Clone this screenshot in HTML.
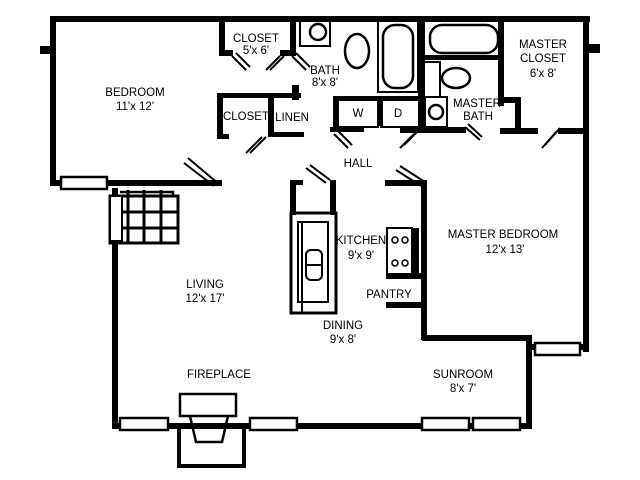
<!DOCTYPE html>
<html><head><meta charset="utf-8"><style>
html,body{margin:0;padding:0;background:#fff;}
svg{display:block;}
text{font-family:"Liberation Sans",sans-serif;font-size:11.5px;fill:#000;text-anchor:middle;}
</style></head><body>
<svg width="640" height="480" viewBox="0 0 640 480" xmlns="http://www.w3.org/2000/svg">
<g fill="#000">
<!-- top wall -->
<rect x="50" y="16" width="540" height="6"/>
<rect x="40" y="46" width="12" height="8"/>
<rect x="588" y="44" width="12" height="9"/>
<!-- bedroom -->
<rect x="50" y="16" width="6" height="170"/>
<rect x="50" y="180" width="172" height="6"/>
<!-- closet 5x6 -->
<rect x="219" y="16" width="6" height="40"/>
<rect x="219" y="50" width="14" height="6"/>
<rect x="290" y="16" width="6" height="38"/>
<rect x="280" y="50" width="16" height="6"/>
<!-- second closet / linen -->
<rect x="217" y="93" width="84" height="5"/>
<rect x="217" y="93" width="6" height="46"/>
<rect x="217" y="134" width="12" height="5"/>
<rect x="268" y="93" width="6" height="44"/>
<rect x="268" y="132" width="36" height="5"/>
<rect x="292" y="85" width="7" height="15"/>
<!-- living walls -->
<rect x="112" y="188" width="6" height="240"/>
<rect x="112" y="423" width="419" height="6"/>
<rect x="526" y="335" width="6" height="94"/>
<rect x="422" y="335" width="110" height="6"/>
<rect x="421" y="180" width="6" height="160"/>
<rect x="385" y="180" width="42" height="6"/>
<rect x="583" y="16" width="6" height="336"/>
<rect x="531" y="344" width="58" height="6"/>
<!-- kitchen walls -->
<rect x="290" y="180" width="6" height="35"/>
<rect x="290" y="180" width="13" height="5"/>
<rect x="330" y="180" width="6" height="35"/>
<rect x="386" y="273" width="38" height="6"/>
<rect x="386" y="302" width="38" height="6"/>
<rect x="411" y="228" width="8" height="48"/>
<!-- W/D and baths -->
<rect x="333" y="96" width="6" height="36"/>
<rect x="330" y="127" width="34" height="5"/>
<rect x="378" y="96" width="5" height="30"/>
<rect x="333" y="96" width="92" height="5"/>
<rect x="418" y="16" width="7" height="117"/>
<rect x="400" y="127" width="66" height="6"/>
<rect x="498" y="16" width="6" height="90"/>
<rect x="498" y="97" width="22" height="6"/>
<rect x="515" y="97" width="6" height="36"/>
<rect x="500" y="128" width="38" height="6"/>
<rect x="558" y="128" width="30" height="6"/>
<rect x="420" y="55" width="82" height="5"/>
</g>
<g fill="none" stroke="#000" stroke-width="2.5">
<!-- windows -->
<rect x="61" y="177" width="46" height="12" fill="#fff"/>
<rect x="120" y="418" width="48" height="12" fill="#fff"/>
<rect x="250" y="418" width="47" height="12" fill="#fff"/>
<rect x="422" y="418" width="47" height="12" fill="#fff"/>
<rect x="473" y="418" width="47" height="12" fill="#fff"/>
<rect x="535" y="343" width="45" height="12" fill="#fff"/>
<!-- fireplace -->
<rect x="180" y="394" width="56" height="22" fill="#fff"/>
<path d="M190 416 L196 442 L222 442 L228 416"/>
<path d="M179 426 V466 H244 V426" stroke-width="4"/>
<!-- built-in grid -->
<rect x="110" y="196" width="68" height="47" stroke-width="3"/>
<path d="M128 190V243M144 190V243M161 190V243M110 212H178M110 228H178" stroke-width="3"/>
<rect x="110" y="196" width="12" height="45" fill="#fff" stroke-width="2"/>
<path d="M120 192H173V196"/>
<!-- kitchen island -->
<rect x="291" y="213" width="45" height="100" stroke-width="3"/>
<rect x="298" y="222" width="30" height="80" stroke-width="2"/>
<rect x="302" y="222" width="26" height="80" stroke-width="2"/>
<path d="M302 302V312" stroke-width="2"/>
<rect x="306" y="250" width="16" height="30" rx="5" stroke-width="2"/>
<path d="M306 265H322" stroke-width="2"/>
<!-- stove -->
<rect x="387" y="228" width="25" height="48" stroke-width="2"/>
<circle cx="395" cy="240" r="3" stroke-width="1.5"/><circle cx="405" cy="240" r="3" stroke-width="1.5"/>
<circle cx="395" cy="263" r="3" stroke-width="1.5"/><circle cx="405" cy="263" r="3" stroke-width="1.5"/>
<!-- W D -->
<rect x="338" y="100" width="40" height="27" stroke-width="2"/>
<rect x="381" y="100" width="38" height="27" stroke-width="2"/>
<!-- hall bath -->
<rect x="300" y="18" width="30" height="28" stroke-width="2"/>
<circle cx="318" cy="32" r="8" stroke-width="2.5"/>
<ellipse cx="357" cy="51" rx="12" ry="17" stroke-width="2.5"/>
<rect x="378" y="20" width="40" height="72" stroke-width="2"/>
<rect x="383" y="25" width="30" height="63" rx="12" stroke-width="2.5"/>
<!-- master bath -->
<rect x="430" y="25" width="68" height="28" rx="12" stroke-width="2.5"/>
<rect x="424" y="62" width="16" height="35" stroke-width="2"/>
<ellipse cx="456" cy="78" rx="14" ry="10" stroke-width="2.5"/>
<rect x="425" y="97" width="22" height="30" stroke-width="2"/>
<circle cx="436" cy="112" r="7" stroke-width="2.5"/>
<!-- doors -->
<g stroke-width="2">
<path d="M232 56L246 70M236 53L250 67"/>
<path d="M280 56L266 70M284 56L270 70"/>
<path d="M292 56L306 70M296 53L310 67"/>
<path d="M262 137L246 153M266 137L250 153"/>
<path d="M188 158L220 185M184 163L214 186"/>
<path d="M338 131L352 145M334 134L348 148"/>
<path d="M418 131L404 145M414 134L400 148"/>
<path d="M465 127L480 140M468 124L482 137"/>
<path d="M560 128L545 145M557 131L542 148"/>
<path d="M310 165L330 180M306 168L326 183"/>
<path d="M400 166L425 182M396 170L421 186"/>
</g>
</g>
<text x="135" y="96">BEDROOM</text>
<text x="135" y="110">11'x 12'</text>
<text x="256" y="42">CLOSET</text>
<text x="256" y="54">5'x 6'</text>
<text x="325" y="74">BATH</text>
<text x="325" y="86">8'x 8'</text>
<text x="246" y="120">CLOSET</text>
<text x="292" y="121">LINEN</text>
<text x="358" y="117">W</text>
<text x="398" y="117">D</text>
<text x="543" y="48">MASTER</text>
<text x="543" y="62">CLOSET</text>
<text x="543" y="77">6'x 8'</text>
<text x="477" y="107">MASTER</text>
<text x="478" y="120">BATH</text>
<text x="358" y="167">HALL</text>
<text x="503" y="238">MASTER BEDROOM</text>
<text x="505" y="253">12'x 13'</text>
<text x="361" y="244">KITCHEN</text>
<text x="361" y="259">9'x 9'</text>
<text x="389" y="298">PANTRY</text>
<text x="205" y="288">LIVING</text>
<text x="205" y="302">12'x 17'</text>
<text x="343" y="329">DINING</text>
<text x="343" y="343">9'x 8'</text>
<text x="219" y="378">FIREPLACE</text>
<text x="463" y="378">SUNROOM</text>
<text x="463" y="392">8'x 7'</text>
</svg>
</body></html>
